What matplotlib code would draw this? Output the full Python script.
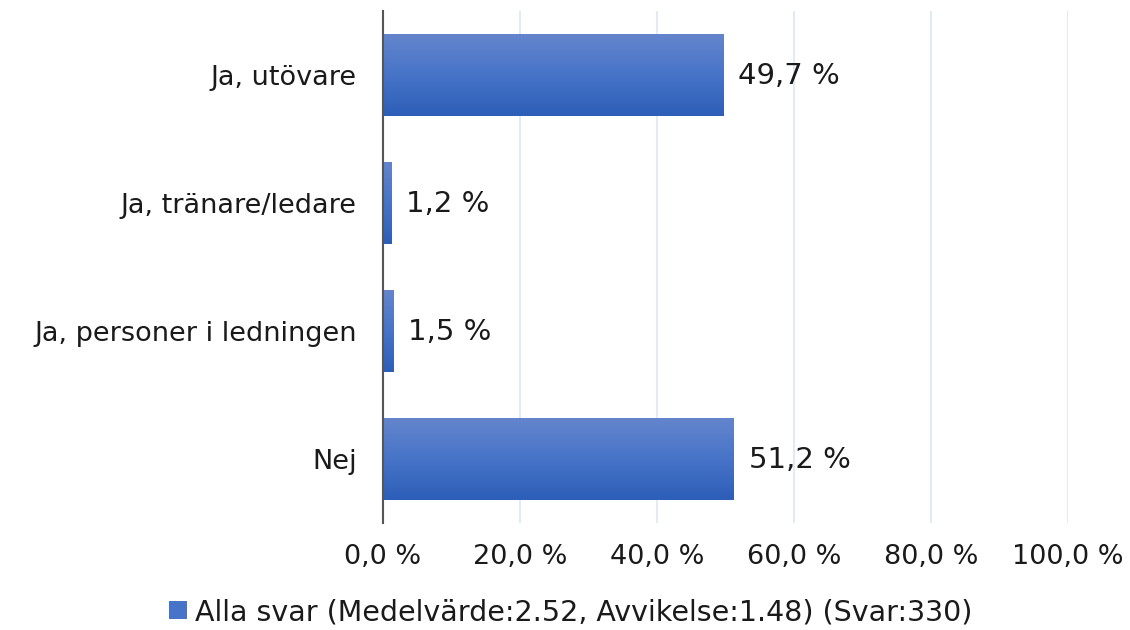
import numpy as np
import matplotlib
matplotlib.use("Agg")
import matplotlib.pyplot as plt
from matplotlib.patches import Patch
from matplotlib.colors import LinearSegmentedColormap

categories = ["Ja, utövare", "Ja, tränare/ledare", "Ja, personer i ledningen", "Nej"]
values = [49.7, 1.2, 1.5, 51.2]
xticks = [0, 20, 40, 60, 80, 100]
xtick_labels = ["0,0 %", "20,0 %", "40,0 %", "60,0 %", "80,0 %", "100,0 %"]
legend_label = "Alla svar (Medelvärde:2.52, Avvikelse:1.48) (Svar:330)"

TEXT_COLOR = "#1a1a1a"
plt.rcParams['font.family'] = ['DejaVu Sans']

fig = plt.figure(figsize=(11.3, 6.3), dpi=100)
ax = fig.add_axes([383/1130, 1-523/630, (1068-383)/1130, 512/630])

cmap = LinearSegmentedColormap.from_list("g", ["#6485cd", "#4774c8", "#2d5eb8"])
grad = np.linspace(0, 1, 100).reshape(-1, 1)

y = np.arange(len(categories))
bars = ax.barh(y, values, height=0.64, color="none", edgecolor="none", zorder=2)
for b in bars:
    x0, y0 = b.get_x(), b.get_y()
    w, h = b.get_width(), b.get_height()
    ax.imshow(grad, cmap=cmap, aspect='auto', extent=[x0, x0 + w, y0 + h, y0],
              origin='upper', zorder=2, interpolation='bicubic')

for yi, v in zip(y, values):
    ax.annotate(f"{v:.1f} %".replace(".", ","), xy=(v, yi), xytext=(15, -1),
                textcoords='offset pixels', va='center', ha='left',
                fontsize=21, color=TEXT_COLOR)

ax.set_xlim(0, 100)
ax.set_ylim(len(categories) - 0.5, -0.5)
ax.set_xticks(xticks)
ax.set_xticklabels(xtick_labels, fontsize=19.5)
ax.set_yticks(y)
ax.set_yticklabels(categories, fontsize=19.5)
ax.tick_params(axis='x', length=0, pad=15, colors=TEXT_COLOR)
ax.tick_params(axis='y', length=0, pad=19, colors=TEXT_COLOR)
ax.grid(axis='x', color='#e4eaf4', linewidth=1.5, zorder=0)
ax.set_axisbelow(True)
for s in ['top', 'right', 'bottom']:
    ax.spines[s].set_visible(False)
ax.spines['left'].set_color('#555555')
ax.spines['left'].set_linewidth(1.5)
ax.spines['left'].set_zorder(3)

handle = Patch(facecolor="#4774c8", edgecolor="none")
fig.legend([handle], [legend_label], loc='center', bbox_to_anchor=(571/1130, 1-612/630),
           frameon=False, fontsize=20.5, handlelength=0.6, handleheight=0.6,
           handletextpad=0.3, borderaxespad=0, labelcolor=TEXT_COLOR)

fig.savefig("out.png", dpi=100)
